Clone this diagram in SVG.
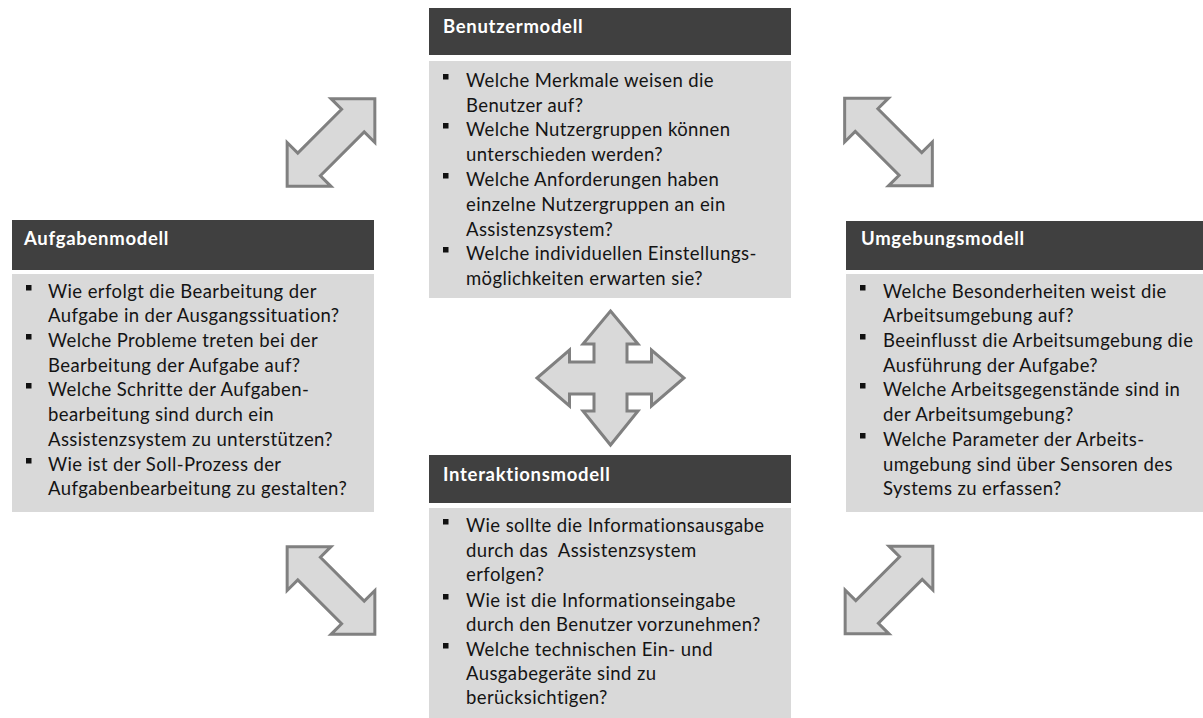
<svg xmlns="http://www.w3.org/2000/svg" width="1203" height="718" viewBox="0 0 1203 718">
<defs>
<style>
.hdr{fill:#404040}
.body{fill:#d9d9d9}
.ht{font-family:Lato,"Liberation Sans",sans-serif;font-weight:bold;font-size:18.5px;letter-spacing:0.7px;fill:#ffffff}
.bt{font-family:Lato,"Liberation Sans",sans-serif;font-size:18.5px;letter-spacing:0.4px;fill:#141414}
.bul{fill:#111111}
.arr{fill:#d9d9d9;stroke:#808080;stroke-width:3;stroke-linejoin:miter}
</style>
<path id="dbl" d="M-62,0 L-31,-31 L-31,-16 L31,-16 L31,-31 L62,0 L31,31 L31,16 L-31,16 L-31,31 Z"/>
</defs>
<rect width="1203" height="718" fill="#ffffff"/>

<g id="connectors">
<use href="#dbl" class="arr" transform="translate(331,142.5) rotate(-45)"/>
<use href="#dbl" class="arr" transform="translate(888.5,142) rotate(45)"/>
<use href="#dbl" class="arr" transform="translate(331,590.5) rotate(45)"/>
<use href="#dbl" class="arr" transform="translate(889,590) rotate(-45)"/>
<path class="arr" d="M610.5,311 L638,344 L627,344 L627,362 L651.5,362 L651.5,350 L684,378 L651.5,406 L651.5,394 L627,394 L627,411 L638,411 L610.5,445 L583,411 L594,411 L594,394 L569.5,394 L569.5,406 L537,378 L569.5,350 L569.5,362 L594,362 L594,344 L583,344 Z"/>
</g>

<g id="benutzermodell">
<rect class="hdr" x="429" y="8" width="362" height="47"/>
<text class="ht" x="443" y="33">Benutzermodell</text>
<rect class="body" x="429" y="61" width="362" height="237"/>
<rect class="bul" x="443" y="74" width="5.5" height="5.5"/>
<rect class="bul" x="443" y="123" width="5.5" height="5.5"/>
<rect class="bul" x="443" y="173" width="5.5" height="5.5"/>
<rect class="bul" x="443" y="247" width="5.5" height="5.5"/>
<text class="bt" x="466" y="87">Welche Merkmale weisen die</text>
<text class="bt" x="466" y="112">Benutzer auf?</text>
<text class="bt" x="466" y="136">Welche Nutzergruppen können</text>
<text class="bt" x="466" y="161">unterschieden werden?</text>
<text class="bt" x="466" y="186">Welche Anforderungen haben</text>
<text class="bt" x="466" y="211">einzelne Nutzergruppen an ein</text>
<text class="bt" x="466" y="236">Assistenzsystem?</text>
<text class="bt" x="466" y="260">Welche individuellen Einstellungs-</text>
<text class="bt" x="466" y="285">möglichkeiten erwarten sie?</text>
</g>

<g id="aufgabenmodell">
<rect class="hdr" x="12" y="220" width="362" height="50"/>
<text class="ht" x="24" y="245">Aufgabenmodell</text>
<rect class="body" x="12" y="274" width="362" height="238"/>
<rect class="bul" x="26" y="285" width="5.5" height="5.5"/>
<rect class="bul" x="26" y="334" width="5.5" height="5.5"/>
<rect class="bul" x="26" y="383" width="5.5" height="5.5"/>
<rect class="bul" x="26" y="458" width="5.5" height="5.5"/>
<text class="bt" x="48" y="298">Wie erfolgt die Bearbeitung der</text>
<text class="bt" x="48" y="322">Aufgabe in der Ausgangssituation?</text>
<text class="bt" x="48" y="347">Welche Probleme treten bei der</text>
<text class="bt" x="48" y="372">Bearbeitung der Aufgabe auf?</text>
<text class="bt" x="48" y="396">Welche Schritte der Aufgaben-</text>
<text class="bt" x="48" y="421">bearbeitung sind durch ein</text>
<text class="bt" x="48" y="446">Assistenzsystem zu unterstützen?</text>
<text class="bt" x="48" y="471">Wie ist der Soll-Prozess der</text>
<text class="bt" x="48" y="495">Aufgabenbearbeitung zu gestalten?</text>
</g>

<g id="umgebungsmodell">
<rect class="hdr" x="846" y="221" width="357" height="49"/>
<text class="ht" x="861" y="245">Umgebungsmodell</text>
<rect class="body" x="846" y="274" width="357" height="238"/>
<rect class="bul" x="860" y="285" width="5.5" height="5.5"/>
<rect class="bul" x="860" y="334" width="5.5" height="5.5"/>
<rect class="bul" x="860" y="383" width="5.5" height="5.5"/>
<rect class="bul" x="860" y="433" width="5.5" height="5.5"/>
<text class="bt" x="883" y="298">Welche Besonderheiten weist die</text>
<text class="bt" x="883" y="322">Arbeitsumgebung auf?</text>
<text class="bt" x="883" y="347">Beeinflusst die Arbeitsumgebung die</text>
<text class="bt" x="883" y="372">Ausführung der Aufgabe?</text>
<text class="bt" x="883" y="396">Welche Arbeitsgegenstände sind in</text>
<text class="bt" x="883" y="421">der Arbeitsumgebung?</text>
<text class="bt" x="883" y="446">Welche Parameter der Arbeits-</text>
<text class="bt" x="883" y="471">umgebung sind über Sensoren des</text>
<text class="bt" x="883" y="495">Systems zu erfassen?</text>
</g>

<g id="interaktionsmodell">
<rect class="hdr" x="429" y="455" width="362" height="48"/>
<text class="ht" x="443" y="481">Interaktionsmodell</text>
<rect class="body" x="429" y="508" width="362" height="210"/>
<rect class="bul" x="443" y="519" width="5.5" height="5.5"/>
<rect class="bul" x="443" y="594" width="5.5" height="5.5"/>
<rect class="bul" x="443" y="643" width="5.5" height="5.5"/>
<text class="bt" x="466" y="532">Wie sollte die Informationsausgabe</text>
<text class="bt" x="466" y="557" xml:space="preserve">durch das  Assistenzsystem</text>
<text class="bt" x="466" y="581">erfolgen?</text>
<text class="bt" x="466" y="607">Wie ist die Informationseingabe</text>
<text class="bt" x="466" y="631">durch den Benutzer vorzunehmen?</text>
<text class="bt" x="466" y="656">Welche technischen Ein- und</text>
<text class="bt" x="466" y="680">Ausgabegeräte sind zu</text>
<text class="bt" x="466" y="704">berücksichtigen?</text>
</g>
</svg>
